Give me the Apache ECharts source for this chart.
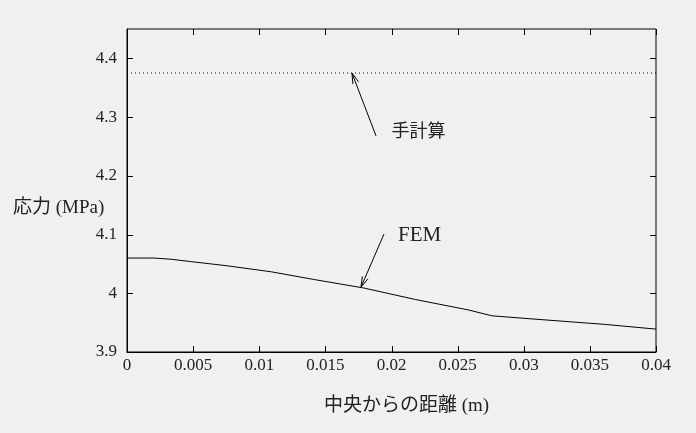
<!DOCTYPE html>
<html><head><meta charset="utf-8">
<script src="https://cdn.jsdelivr.net/npm/echarts@6/dist/echarts.min.js"></script>
<style>html,body{margin:0;padding:0;background:#f0f0f0;}#c{width:696px;height:433px;}</style>
</head><body><div id="c"></div>
<script>
const xTicks = [0, 0.005, 0.01, 0.015, 0.02, 0.025, 0.03, 0.035, 0.04];
const yTicks = [3.9, 4.0, 4.1, 4.2, 4.3, 4.4];
const femX = [0, 0.002, 0.0033, 0.0048, 0.0075, 0.0109, 0.0141, 0.0179, 0.0218, 0.0258, 0.0276, 0.031, 0.0362, 0.04];
const femY = [4.060, 4.060, 4.058, 4.054, 4.047, 4.0366, 4.0236, 4.009, 3.9894, 3.9717, 3.9616, 3.9557, 3.9469, 3.939];
const handX = [0, 0.04];
const handY = [4.375, 4.375];
// annotations: [tailX, tailY, headX, headY]
const arrowFEM = [0.01943, 4.1007, 0.01769, 4.0102];
const arrowHand = [0.01883, 4.268, 0.01701, 4.375];
const labelNames = ['手計算', 'FEM'];
const labelPos = [[0.0200, 4.2747], [0.0205, 4.099]];
const xName = '中央からの距離 (m)';
const yName = '応力 (MPa)';
const xMin = 0, xMax = 0.04, yMin = 3.9, yMax = 4.45;

const serif = '"Liberation Serif","DejaVu Serif",serif';
const cjk = '"Liberation Serif","Noto Sans CJK JP",serif';

const chart = echarts.init(document.getElementById('c'));
function fmtY(v){ if (v > 4.41) return ''; const r = Math.round(v*10)/10; return r === 4 ? '4' : r.toFixed(1); }
function fmtX(v){ return String(Math.round(v*1000)/1000); }

const axisCommon = {
  axisLine: {show: true, lineStyle: {color: '#000', width: 1}},
  axisTick: {show: false},
  splitLine: {show: false}
};

function arrowRender(params, api) {
  const t = api.coord([api.value(0), api.value(1)]);
  const h = api.coord([api.value(2), api.value(3)]);
  const ang = Math.atan2(t[1]-h[1], t[0]-h[0]);
  const L = 11, a = 0.28;
  const p1 = [h[0] + L*Math.cos(ang+a), h[1] + L*Math.sin(ang+a)];
  const p2 = [h[0] + L*Math.cos(ang-a), h[1] + L*Math.sin(ang-a)];
  return {type: 'group', children: [
    {type: 'line', shape: {x1: t[0], y1: t[1], x2: h[0], y2: h[1]}, style: {stroke: '#000', lineWidth: 1}},
    {type: 'line', shape: {x1: h[0], y1: h[1], x2: p1[0], y2: p1[1]}, style: {stroke: '#000', lineWidth: 1}},
    {type: 'line', shape: {x1: h[0], y1: h[1], x2: p2[0], y2: p2[1]}, style: {stroke: '#000', lineWidth: 1}}
  ]};
}
function labelRender(params, api) {
  const p = api.coord([api.value(0), api.value(1)]);
  const fs = params.dataIndex === 0 ? 18 : 21;
  return {type: 'text', x: p[0], y: p[1], style: {text: labelNames[params.dataIndex], fill: '#222', font: fs + 'px ' + cjk, textAlign: 'left', textVerticalAlign: 'middle'}};
}
// tick marks drawn inside the frame on all four sides
const tickData = xTicks.map(v => [0, v]).concat(yTicks.map(v => [1, v]));
function tickRender(params, api) {
  const kind = api.value(0), v = api.value(1), L = 6;
  const st = {stroke: '#000', lineWidth: 1};
  if (kind === 0) {
    const b = api.coord([v, yMin]), t = api.coord([v, yMax]);
    const x = Math.round(b[0]) + 0.5;
    return {type: 'group', children: [
      {type: 'line', shape: {x1: x, y1: b[1], x2: x, y2: b[1] - L}, style: st},
      {type: 'line', shape: {x1: x, y1: t[1], x2: x, y2: t[1] + L}, style: st}
    ]};
  } else {
    const l = api.coord([xMin, v]), r = api.coord([xMax, v]);
    const y = Math.round(l[1]) + 0.5;
    return {type: 'group', children: [
      {type: 'line', shape: {x1: l[0], y1: y, x2: l[0] + L, y2: y}, style: st},
      {type: 'line', shape: {x1: r[0], y1: y, x2: r[0] - L, y2: y}, style: st}
    ]};
  }
}

chart.setOption({
  backgroundColor: '#f0f0f0',
  animation: false,
  title: [
    {text: yName, left: 13, top: 199, padding: 0, textStyle: {fontFamily: cjk, fontSize: 19, fontWeight: 'normal', color: '#222'}},
    {text: xName, left: 324, top: 397, padding: 0, textStyle: {fontFamily: cjk, fontSize: 19, fontWeight: 'normal', color: '#222'}}
  ],
  grid: {left: 127, right: 40, top: 29, bottom: 81, show: true, borderColor: '#000', borderWidth: 1, backgroundColor: 'transparent'},
  xAxis: Object.assign({type: 'value', min: xMin, max: xMax, interval: 0.005,
      axisLabel: {formatter: fmtX, fontFamily: serif, fontSize: 17, color: '#222', margin: 5}}, axisCommon),
  yAxis: Object.assign({type: 'value', min: yMin, max: yMax, interval: 0.1,
      axisLabel: {formatter: fmtY, fontFamily: serif, fontSize: 17, color: '#222', margin: 10, showMaxLabel: false}}, axisCommon),
  series: [
    {type: 'line', data: femX.map((x, i) => [x, femY[i]]), symbol: 'none', smooth: false,
      lineStyle: {color: '#000', width: 1}},
    {type: 'line', data: handX.map((x, i) => [x, handY[i]]), symbol: 'none',
      lineStyle: {color: '#000', width: 1, type: [1, 3]}},
    {type: 'custom', renderItem: tickRender, data: tickData, silent: true, clip: false},
    {type: 'custom', renderItem: arrowRender, data: [arrowHand, arrowFEM], silent: true},
    {type: 'custom', renderItem: labelRender, data: labelPos, silent: true}
  ]
});
</script></body></html>
